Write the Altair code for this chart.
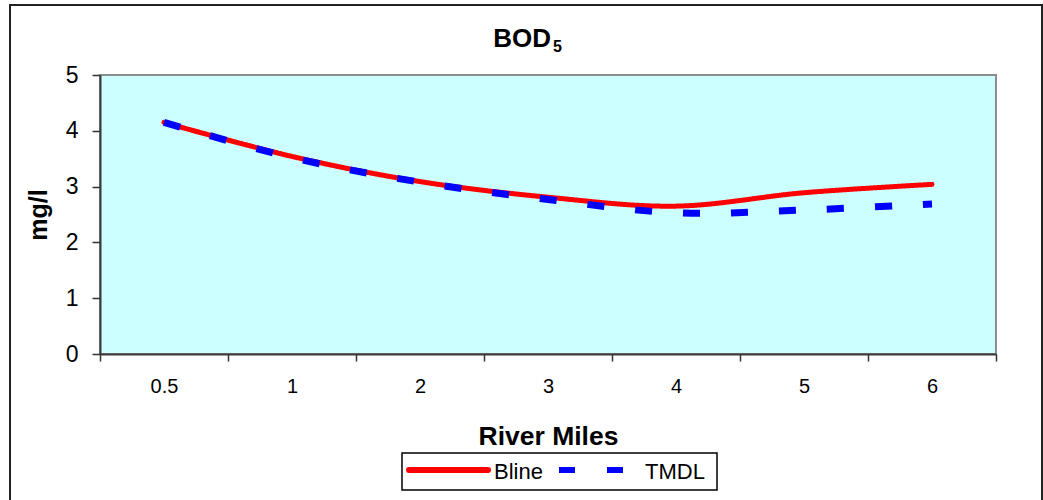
import altair as alt
import pandas as pd

# River mile categories along the x axis
miles = ["0.5", "1", "2", "3", "4", "5", "6"]

# BOD5 concentrations (mg/l) for each scenario
bline = [4.15, 3.54, 3.09, 2.81, 2.65, 2.89, 3.04]
tmdl = [4.15, 3.52, 3.08, 2.77, 2.53, 2.58, 2.69]

series_names = ["Bline", "TMDL"]
series_colors = ["#FF0000", "#0000FF"]
series_dashes = [[1, 0], [17, 31]]
y_ticks = [0, 1, 2, 3, 4, 5]

rows = []
for name, vals in zip(series_names, [bline, tmdl]):
    for m, v in zip(miles, vals):
        rows.append({"mile": m, "value": v, "series": name})
df = pd.DataFrame(rows)

FONT = "Liberation Sans"
W, H = 896, 279

x_enc = alt.X(
    "mile:N",
    sort=miles,
    scale=alt.Scale(type="band", paddingInner=0, paddingOuter=0),
    axis=alt.Axis(
        title="River Miles",
        labelAngle=0,
        tickBand="extent",
        tickSize=7,
        tickWidth=1.5,
        tickColor="#333333",
        labelFontSize=20,
        labelPadding=15,
        labelFont=FONT,
        labelColor="#000000",
        domainColor="#3a3a3a",
        domainWidth=2,
        titleFont=FONT,
        titleFontSize=26.5,
        titleFontWeight="bold",
        titleColor="#000000",
        titleY=90,
        titleBaseline="alphabetic",
        grid=False,
    ),
)
y_enc = alt.Y(
    "value:Q",
    scale=alt.Scale(domain=[0, 5], nice=False, zero=True),
    axis=alt.Axis(
        values=y_ticks,
        title="mg/l",
        tickSize=8,
        tickWidth=1.5,
        tickColor="#333333",
        labelFontSize=23,
        labelPadding=14,
        labelFont=FONT,
        labelColor="#000000",
        domainColor="#3a3a3a",
        domainWidth=2,
        titleFont=FONT,
        titleFontSize=25,
        titleFontWeight="bold",
        titleColor="#000000",
        titleAngle=270,
        titleX=-62,
        titleY=H / 2,
        titleAlign="center",
        titleBaseline="middle",
        grid=False,
    ),
)
color_enc = alt.Color(
    "series:N",
    scale=alt.Scale(domain=series_names, range=series_colors),
    legend=None,
)
dash_enc = alt.StrokeDash(
    "series:N",
    scale=alt.Scale(domain=series_names, range=series_dashes),
    legend=None,
)

base = alt.Chart(df).encode(x=x_enc, y=y_enc, color=color_enc, strokeDash=dash_enc)

red_line = base.transform_filter(alt.datum.series == "Bline").mark_line(
    interpolate="cardinal", strokeWidth=5, strokeCap="round", strokeJoin="round"
)
blue_line = base.transform_filter(alt.datum.series == "TMDL").mark_line(
    interpolate="cardinal", strokeWidth=7, strokeCap="butt"
)

# Chart title: "BOD" with a subscript 5
title_df = pd.DataFrame({"main": ["BOD"], "sub": ["5"]})
title_main = alt.Chart(title_df).mark_text(
    font=FONT, fontSize=26, fontWeight="bold", align="right", baseline="alphabetic", color="#000000"
).encode(x=alt.value(451), y=alt.value(-28), text="main:N")
title_sub = alt.Chart(title_df).mark_text(
    font=FONT, fontSize=16, fontWeight="bold", align="left", baseline="alphabetic", color="#000000"
).encode(x=alt.value(453), y=alt.value(-23), text="sub:N")

# Outer chart frame
frame = alt.Chart(title_df).mark_rect(
    fillOpacity=0, stroke="#222222", strokeWidth=2
).encode(x=alt.value(-90), x2=alt.value(942), y=alt.value(-70), y2=alt.value(440))

# Legend box below the axis title
leg_df = pd.DataFrame({"series": series_names})
leg_box = alt.Chart(title_df).mark_rect(
    fill="#FFFFFF", stroke="#000000", strokeWidth=1.5
).encode(x=alt.value(302), x2=alt.value(617), y=alt.value(378), y2=alt.value(415))
leg_red = alt.Chart(title_df).mark_rule(
    color=series_colors[0], strokeWidth=6, strokeCap="round"
).encode(x=alt.value(309), x2=alt.value(388), y=alt.value(395))
leg_blue = alt.Chart(title_df).mark_rule(
    color=series_colors[1], strokeWidth=6, strokeCap="butt", strokeDash=[16, 32]
).encode(x=alt.value(459), x2=alt.value(540), y=alt.value(395))
leg_text_b = alt.Chart(leg_df).transform_filter(alt.datum.series == "Bline").mark_text(
    font=FONT, fontSize=22, align="left", baseline="alphabetic", color="#000000"
).encode(x=alt.value(394), y=alt.value(404), text="series:N")
leg_text_t = alt.Chart(leg_df).transform_filter(alt.datum.series == "TMDL").mark_text(
    font=FONT, fontSize=22, align="left", baseline="alphabetic", color="#000000"
).encode(x=alt.value(545), y=alt.value(404), text="series:N")

chart = (
    alt.layer(
        frame, red_line, blue_line, title_main, title_sub,
        leg_box, leg_red, leg_blue, leg_text_b, leg_text_t,
    )
    .properties(
        width=W,
        height=H,
        autosize=alt.AutoSizeParams(type="none"),
        padding={"left": 100, "top": 75, "right": 47, "bottom": 146},
        background="#FFFFFF",
    )
    .configure_view(fill="#CCFFFF", stroke="#8C8C8C", strokeWidth=2)
)

chart.save("out.html", embed_options={"renderer": "svg", "actions": False})
